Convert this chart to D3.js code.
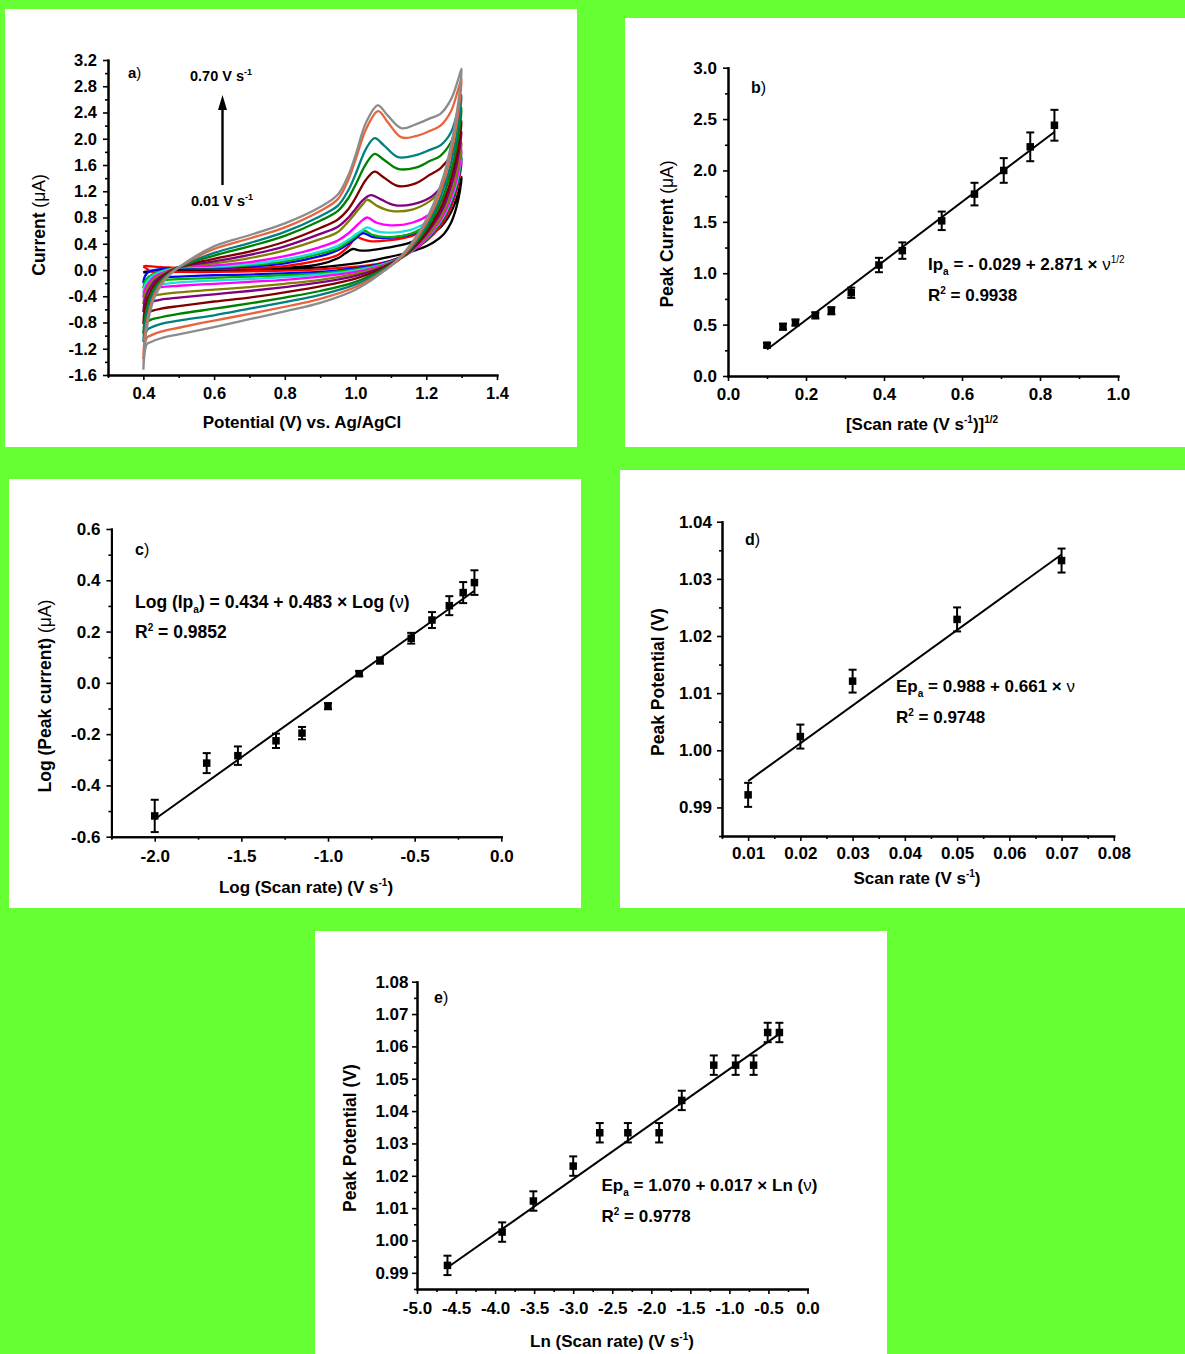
<!DOCTYPE html>
<html>
<head>
<meta charset="utf-8">
<script src="https://cdn.jsdelivr.net/npm/d3@7/dist/d3.min.js"></script>
<style>
  html, body { margin: 0; padding: 0; background: #66ff33; }
  svg { display: block; }
</style>
</head>
<body>
<svg id="fig" width="1185" height="1354"></svg>
<script>
// ------------------------------------------------------------------
// Data
// ------------------------------------------------------------------
const scanRates = [0.01, 0.02, 0.03, 0.05, 0.07, 0.10, 0.15, 0.20, 0.30, 0.40, 0.50, 0.60, 0.70];
const cvColors = ["#000000", "#ff0000", "#0000ff", "#00b000", "#22dddd", "#ff00ff", "#808000",
                  "#800080", "#800000", "#008000", "#008080", "#e8643c", "#8c8c8c"];

// Cyclic voltammograms: anodic sweep (E, i) pairs, one row per scan rate
const cvForward = [
  [[0.40,-0.04],[0.404,-0.03],[0.414,-0.02],[0.432,-0.01],[0.461,0.00],[0.50,0.01],[0.60,0.00],[0.70,0.01],[0.80,0.03],[0.90,0.09],[0.95,0.18],[0.97,0.25],[0.992,0.32],[1.01,0.30],[1.04,0.30],[1.09,0.34],[1.15,0.41],[1.20,0.52],[1.24,0.65],[1.27,0.88],[1.29,1.17],[1.30,1.42]],
  [[0.40,0.05],[0.404,0.06],[0.414,0.06],[0.432,0.05],[0.461,0.04],[0.50,0.03],[0.60,0.02],[0.70,0.03],[0.80,0.06],[0.90,0.15],[0.95,0.23],[0.98,0.36],[1.003,0.50],[1.02,0.47],[1.04,0.44],[1.09,0.45],[1.16,0.52],[1.21,0.66],[1.24,0.83],[1.27,1.10],[1.29,1.42],[1.30,1.64]],
  [[0.40,-0.20],[0.404,-0.10],[0.414,-0.03],[0.432,0.00],[0.461,0.02],[0.50,0.03],[0.60,0.03],[0.70,0.05],[0.80,0.10],[0.90,0.21],[0.95,0.30],[0.98,0.40],[1.00,0.48],[1.02,0.56],[1.05,0.50],[1.09,0.49],[1.16,0.55],[1.21,0.70],[1.24,0.87],[1.27,1.15],[1.29,1.48],[1.30,1.70]],
  [[0.40,-0.28],[0.404,-0.18],[0.414,-0.11],[0.432,-0.05],[0.461,0.00],[0.50,0.04],[0.60,0.04],[0.70,0.07],[0.80,0.13],[0.90,0.25],[0.95,0.33],[0.98,0.43],[1.00,0.51],[1.023,0.60],[1.05,0.53],[1.09,0.50],[1.16,0.56],[1.21,0.72],[1.24,0.90],[1.27,1.18],[1.29,1.50],[1.30,1.72]],
  [[0.40,-0.35],[0.404,-0.24],[0.414,-0.15],[0.432,-0.07],[0.461,-0.01],[0.50,0.04],[0.60,0.05],[0.70,0.09],[0.80,0.16],[0.90,0.28],[0.95,0.37],[0.98,0.46],[1.00,0.54],[1.02,0.61],[1.033,0.65],[1.06,0.59],[1.10,0.57],[1.16,0.62],[1.21,0.76],[1.24,0.95],[1.27,1.22],[1.29,1.55],[1.30,1.78]],
  [[0.40,-0.42],[0.404,-0.30],[0.414,-0.20],[0.432,-0.10],[0.461,-0.03],[0.50,0.04],[0.60,0.07],[0.70,0.12],[0.80,0.21],[0.90,0.35],[0.95,0.45],[0.98,0.56],[1.00,0.66],[1.02,0.76],[1.033,0.80],[1.06,0.72],[1.10,0.68],[1.16,0.72],[1.21,0.85],[1.24,1.02],[1.27,1.30],[1.29,1.60],[1.30,1.83]],
  [[0.40,-0.52],[0.404,-0.38],[0.414,-0.25],[0.432,-0.13],[0.461,-0.04],[0.50,0.04],[0.60,0.10],[0.70,0.18],[0.80,0.30],[0.90,0.47],[0.95,0.58],[0.98,0.74],[1.00,0.87],[1.02,1.00],[1.033,1.07],[1.06,0.98],[1.10,0.90],[1.16,0.92],[1.21,1.05],[1.24,1.20],[1.27,1.45],[1.29,1.75],[1.30,1.94]],
  [[0.40,-0.64],[0.404,-0.47],[0.414,-0.32],[0.432,-0.17],[0.461,-0.06],[0.50,0.04],[0.60,0.13],[0.70,0.23],[0.80,0.36],[0.90,0.55],[0.95,0.66],[0.98,0.80],[1.00,0.93],[1.02,1.06],[1.043,1.14],[1.07,1.08],[1.11,0.99],[1.16,1.00],[1.21,1.10],[1.24,1.25],[1.27,1.50],[1.29,1.85],[1.30,2.11]],
  [[0.40,-0.82],[0.404,-0.60],[0.414,-0.41],[0.432,-0.22],[0.461,-0.08],[0.50,0.04],[0.60,0.17],[0.70,0.28],[0.80,0.43],[0.90,0.64],[0.95,0.77],[0.98,0.93],[1.00,1.10],[1.03,1.38],[1.054,1.50],[1.08,1.41],[1.12,1.28],[1.17,1.32],[1.21,1.45],[1.24,1.55],[1.27,1.75],[1.29,2.05],[1.30,2.27]],
  [[0.40,-0.97],[0.404,-0.74],[0.414,-0.50],[0.432,-0.27],[0.461,-0.10],[0.50,0.04],[0.60,0.22],[0.70,0.36],[0.80,0.52],[0.90,0.75],[0.95,0.90],[0.98,1.10],[1.00,1.30],[1.03,1.62],[1.054,1.77],[1.08,1.68],[1.12,1.54],[1.17,1.56],[1.21,1.66],[1.24,1.74],[1.27,1.95],[1.29,2.25],[1.30,2.47]],
  [[0.40,-1.10],[0.404,-0.85],[0.414,-0.58],[0.432,-0.31],[0.461,-0.11],[0.50,0.04],[0.60,0.26],[0.70,0.41],[0.80,0.58],[0.90,0.82],[0.95,0.98],[0.98,1.22],[1.00,1.46],[1.03,1.85],[1.054,2.01],[1.08,1.90],[1.12,1.72],[1.17,1.75],[1.21,1.83],[1.24,1.90],[1.27,2.10],[1.29,2.45],[1.30,2.67]],
  [[0.40,-1.36],[0.404,-1.00],[0.414,-0.68],[0.432,-0.36],[0.461,-0.13],[0.50,0.04],[0.60,0.32],[0.70,0.48],[0.80,0.65],[0.90,0.90],[0.95,1.08],[0.98,1.38],[1.00,1.68],[1.03,2.15],[1.064,2.42],[1.09,2.26],[1.13,2.02],[1.17,2.04],[1.21,2.12],[1.24,2.20],[1.27,2.42],[1.29,2.75],[1.30,2.92]],
  [[0.40,-1.52],[0.404,-1.12],[0.414,-0.76],[0.432,-0.41],[0.461,-0.15],[0.50,0.04],[0.60,0.36],[0.70,0.53],[0.80,0.71],[0.90,0.96],[0.95,1.15],[0.98,1.45],[1.00,1.75],[1.03,2.25],[1.063,2.51],[1.09,2.36],[1.13,2.16],[1.17,2.22],[1.21,2.31],[1.24,2.38],[1.27,2.60],[1.29,2.90],[1.30,3.07]]
];

// Cathodic (return) sweep: shared potential grid, currents per scan rate
const cvReverseE = [1.295, 1.285, 1.27, 1.25, 1.22, 1.18, 1.13, 1.07, 1.00, 0.90, 0.80, 0.70, 0.60, 0.50, 0.45, 0.42, 0.41, 0.40];
const cvReverseI = [
  [1.20,0.95,0.72,0.55,0.42,0.32,0.24,0.17,0.10,0.04,0.01,0.00,-0.01,-0.02,-0.02,-0.02,-0.03,-0.04],
  [1.45,1.20,0.96,0.75,0.54,0.36,0.20,0.10,0.05,0.01,-0.01,-0.02,-0.03,-0.03,-0.03,-0.02,0.02,0.05],
  [1.50,1.26,1.02,0.80,0.57,0.37,0.20,0.09,0.03,-0.03,-0.05,-0.07,-0.08,-0.10,-0.11,-0.12,-0.14,-0.20],
  [1.53,1.28,1.04,0.81,0.58,0.37,0.19,0.08,0.01,-0.05,-0.08,-0.10,-0.12,-0.14,-0.16,-0.18,-0.20,-0.28],
  [1.58,1.32,1.07,0.83,0.60,0.38,0.19,0.07,-0.01,-0.07,-0.11,-0.14,-0.16,-0.19,-0.22,-0.25,-0.28,-0.35],
  [1.62,1.36,1.10,0.85,0.61,0.38,0.19,0.06,-0.03,-0.10,-0.15,-0.18,-0.21,-0.24,-0.26,-0.29,-0.32,-0.42],
  [1.72,1.45,1.17,0.90,0.64,0.40,0.19,0.05,-0.06,-0.15,-0.21,-0.26,-0.30,-0.34,-0.37,-0.40,-0.43,-0.52],
  [1.88,1.58,1.28,0.98,0.69,0.42,0.19,0.03,-0.09,-0.19,-0.26,-0.32,-0.37,-0.42,-0.45,-0.49,-0.52,-0.64],
  [2.02,1.70,1.38,1.05,0.74,0.44,0.19,0.01,-0.13,-0.25,-0.34,-0.42,-0.48,-0.55,-0.59,-0.63,-0.67,-0.82],
  [2.20,1.86,1.50,1.15,0.80,0.47,0.19,-0.01,-0.18,-0.32,-0.42,-0.51,-0.59,-0.67,-0.72,-0.76,-0.80,-0.97],
  [2.38,2.02,1.63,1.25,0.86,0.50,0.19,-0.03,-0.22,-0.38,-0.49,-0.59,-0.69,-0.77,-0.82,-0.88,-0.92,-1.10],
  [2.60,2.20,1.78,1.36,0.93,0.54,0.20,-0.05,-0.26,-0.44,-0.56,-0.67,-0.77,-0.88,-0.94,-1.00,-1.03,-1.36],
  [2.75,2.35,1.90,1.45,1.00,0.58,0.22,-0.06,-0.30,-0.50,-0.63,-0.75,-0.87,-0.98,-1.04,-1.10,-1.13,-1.52]
];

// (b) peak current vs square root of scan rate
const bX   = [0.100, 0.141, 0.173, 0.224, 0.265, 0.316, 0.387, 0.447, 0.548, 0.632, 0.707, 0.775, 0.837];
const bY   = [0.30, 0.48, 0.52, 0.59, 0.635, 0.81, 1.08, 1.22, 1.51, 1.77, 2.00, 2.23, 2.44];
const bErr = [0.02, 0.03, 0.03, 0.03, 0.035, 0.05, 0.07, 0.08, 0.09, 0.11, 0.12, 0.14, 0.15];
const bFit = [-0.029, 2.871];

// (c) log peak current vs log scan rate
const cX   = [-2.00, -1.70, -1.52, -1.30, -1.15, -1.00, -0.82, -0.70, -0.52, -0.40, -0.30, -0.22, -0.155];
const cY   = [-0.519, -0.313, -0.284, -0.226, -0.196, -0.091, 0.036, 0.087, 0.174, 0.245, 0.301, 0.352, 0.391];
const cErr = [0.063, 0.039, 0.036, 0.028, 0.024, 0.012, 0.010, 0.012, 0.021, 0.031, 0.037, 0.041, 0.048];
const cFit = [0.434, 0.483];

// (d) peak potential vs scan rate
const dX   = [0.01, 0.02, 0.03, 0.05, 0.07];
const dY   = [0.9922, 1.0024, 1.0121, 1.0229, 1.0332];
const dErr = [0.0021, 0.0021, 0.0020, 0.0021, 0.0021];
const dFit = [0.988, 0.661];

// (e) peak potential vs ln scan rate
const eX   = [-4.61, -3.91, -3.51, -3.00, -2.66, -2.30, -1.90, -1.61, -1.20, -0.92, -0.69, -0.51, -0.36];
const eY   = [0.9923, 1.0026, 1.0122, 1.0230, 1.0333, 1.0333, 1.0333, 1.0433, 1.0542, 1.0542, 1.0542, 1.0643, 1.0643];
const eErr = [0.003, 0.003, 0.003, 0.003, 0.003, 0.003, 0.003, 0.003, 0.003, 0.003, 0.003, 0.003, 0.003];
const eFit = [1.070, 0.017];

// Tick values
const aXTicks = [0.4, 0.6, 0.8, 1.0, 1.2, 1.4];
const aXMinor = [0.3, 0.5, 0.7, 0.9, 1.1, 1.3];
const aYTicks = [-1.6, -1.2, -0.8, -0.4, 0.0, 0.4, 0.8, 1.2, 1.6, 2.0, 2.4, 2.8, 3.2];
const aYMinor = [-1.4, -1.0, -0.6, -0.2, 0.2, 0.6, 1.0, 1.4, 1.8, 2.2, 2.6, 3.0];
const bXTicks = [0.0, 0.2, 0.4, 0.6, 0.8, 1.0];
const bXMinor = [0.1, 0.3, 0.5, 0.7, 0.9];
const bYTicks = [0.0, 0.5, 1.0, 1.5, 2.0, 2.5, 3.0];
const bYMinor = [0.25, 0.75, 1.25, 1.75, 2.25, 2.75];
const cXTicks = [-2.0, -1.5, -1.0, -0.5, 0.0];
const cXMinor = [-2.25, -1.75, -1.25, -0.75, -0.25];
const cYTicks = [-0.6, -0.4, -0.2, 0.0, 0.2, 0.4, 0.6];
const cYMinor = [-0.5, -0.3, -0.1, 0.1, 0.3, 0.5];
const dXTicks = [0.01, 0.02, 0.03, 0.04, 0.05, 0.06, 0.07, 0.08];
const dXMinor = [0.005, 0.015, 0.025, 0.035, 0.045, 0.055, 0.065, 0.075];
const dYTicks = [0.99, 1.00, 1.01, 1.02, 1.03, 1.04];
const dYMinor = [0.985, 0.995, 1.005, 1.015, 1.025, 1.035];
const eXTicks = [-5.0, -4.5, -4.0, -3.5, -3.0, -2.5, -2.0, -1.5, -1.0, -0.5, 0.0];
const eXMinor = [-4.75, -4.25, -3.75, -3.25, -2.75, -2.25, -1.75, -1.25, -0.75, -0.25];
const eYTicks = [0.99, 1.00, 1.01, 1.02, 1.03, 1.04, 1.05, 1.06, 1.07, 1.08];
const eYMinor = [0.985, 0.995, 1.005, 1.015, 1.025, 1.035, 1.045, 1.055, 1.065, 1.075];

// ------------------------------------------------------------------
// Drawing helpers
// ------------------------------------------------------------------
const FONT = '"Liberation Sans", Arial, Helvetica, sans-serif';
const svg = d3.select("#fig");
svg.append("rect").attr("width", 1185).attr("height", 1354).attr("fill", "#66ff33");

// text built from pieces: plain string = bold, [s,"n"] = normal,
// [s,"sup"] / [s,"sub"] = small raised / lowered, [s,"supn"] = small raised normal
function richText(parent, x, y, parts, o = {}) {
  const t = parent.append("text")
    .attr("x", x).attr("y", y)
    .attr("font-family", FONT)
    .attr("font-size", o.size || 17)
    .attr("font-weight", "bold")
    .attr("fill", "#000")
    .attr("text-anchor", o.anchor || "start");
  if (o.rotate) t.attr("transform", `rotate(-90 ${x} ${y})`);
  let shift = 0;
  parts.forEach(p => {
    const [str, kind] = typeof p === "string" ? [p, "b"] : p;
    const s = t.append("tspan").text(str);
    let target = 0;
    if (kind === "sup" || kind === "supn") {
      target = -(o.rise || 7);
      s.attr("font-size", o.small || 10);
    } else if (kind === "sub") {
      target = o.drop || 5;
      s.attr("font-size", o.small || 10);
    }
    if (kind === "n" || kind === "supn") s.attr("font-weight", "normal");
    if (target !== shift) s.attr("dy", target - shift);
    shift = target;
  });
  return t;
}

function panel(p) {
  const g = svg.append("g");
  g.append("rect")
    .attr("x", p.box[0]).attr("y", p.box[1])
    .attr("width", p.box[2] - p.box[0]).attr("height", p.box[3] - p.box[1])
    .attr("fill", "#ffffff");

  const x = d3.scaleLinear().domain(p.xd).range(p.xr);
  const y = d3.scaleLinear().domain(p.yd).range(p.yr);
  const fx = d => d.toFixed(p.xDec);
  const fy = d => d.toFixed(p.yDec);

  const styleAxis = sel => {
    sel.select(".domain").attr("stroke", "#000").attr("stroke-width", 2).attr("stroke-linecap", "square");
    sel.selectAll(".tick line").attr("stroke", "#000").attr("stroke-width", 1.6);
    sel.selectAll(".tick text")
      .attr("fill", "#000")
      .style("font-family", FONT)
      .style("font-size", (p.tickSize || 17) + "px")
      .style("font-weight", "bold");
  };

  const xg = g.append("g").attr("transform", `translate(0,${p.yr[0]})`);
  xg.append("g").call(d3.axisBottom(x).tickValues(p.xMinor).tickSize(3).tickFormat("").tickSizeOuter(0)).call(styleAxis);
  xg.append("g").call(d3.axisBottom(x).tickValues(p.xTicks).tickSize(5).tickPadding(p.xPad).tickFormat(fx).tickSizeOuter(0)).call(styleAxis);

  const yg = g.append("g").attr("transform", `translate(${p.xr[0]},0)`);
  yg.append("g").call(d3.axisLeft(y).tickValues(p.yMinor).tickSize(3).tickFormat("").tickSizeOuter(0)).call(styleAxis);
  yg.append("g").call(d3.axisLeft(y).tickValues(p.yTicks).tickSize(5).tickPadding(p.yPad).tickFormat(fy).tickSizeOuter(0)).call(styleAxis);

  return { g, x, y };
}

function scatterWithFit(P, xs, ys, errs, fit) {
  const { g, x, y } = P;
  const x0 = xs[0], x1 = xs[xs.length - 1];
  g.append("line")
    .attr("x1", x(x0)).attr("y1", y(fit[0] + fit[1] * x0))
    .attr("x2", x(x1)).attr("y2", y(fit[0] + fit[1] * x1))
    .attr("stroke", "#000").attr("stroke-width", 2);
  const pts = g.append("g");
  xs.forEach((xv, i) => {
    const cx = x(xv), top = y(ys[i] + errs[i]), bot = y(ys[i] - errs[i]);
    pts.append("line").attr("x1", cx).attr("x2", cx).attr("y1", top).attr("y2", bot)
      .attr("stroke", "#000").attr("stroke-width", 2);
    [top, bot].forEach(yy => pts.append("line")
      .attr("x1", cx - 4).attr("x2", cx + 4).attr("y1", yy).attr("y2", yy)
      .attr("stroke", "#000").attr("stroke-width", 2));
    pts.append("rect").attr("x", cx - 3.75).attr("y", y(ys[i]) - 3.75)
      .attr("width", 7.5).attr("height", 7.5).attr("fill", "#000");
  });
}

// ------------------------------------------------------------------
// (a) cyclic voltammograms
// ------------------------------------------------------------------
const A = panel({
  box: [5, 9, 577, 447],
  xr: [108, 497], yr: [375, 60], xd: [0.3, 1.4], yd: [-1.6, 3.2],
  xTicks: aXTicks, xMinor: aXMinor, yTicks: aYTicks, yMinor: aYMinor,
  xDec: 1, yDec: 1, xPad: 7, yPad: 6, tickSize: 16.5
});
{
  const line = d3.line().x(d => A.x(d[0])).y(d => A.y(d[1])).curve(d3.curveCatmullRom.alpha(0.5));
  const curves = A.g.append("g").attr("fill", "none").attr("stroke-width", 2.3).attr("stroke-linejoin", "round");
  scanRates.forEach((v, k) => {
    const loop = cvForward[k].concat(cvReverseE.map((e, j) => [e, cvReverseI[k][j]]));
    curves.append("path").attr("d", line(loop)).attr("stroke", cvColors[k]);
  });
  richText(A.g, 128, 78, ["a", [")", "n"]], { size: 15 });
  richText(A.g, 190, 81, ["0.70 V s", ["-1", "sup"]], { size: 14.5, small: 9, rise: 6 });
  richText(A.g, 191, 206, ["0.01 V s", ["-1", "sup"]], { size: 14.5, small: 9, rise: 6 });
  A.g.append("line").attr("x1", 222.5).attr("x2", 222.5).attr("y1", 185).attr("y2", 106)
    .attr("stroke", "#000").attr("stroke-width", 2.4);
  A.g.append("path").attr("d", "M222.5,95 L227,110 L218,110 Z").attr("fill", "#000");
  richText(A.g, 302, 428, ["Potential (V) vs. Ag/AgCl"], { anchor: "middle", size: 17 });
  richText(A.g, 45, 225, ["Current ", ["(\u03bcA)", "n"]], { anchor: "middle", size: 17.5, rotate: true });
}

// ------------------------------------------------------------------
// (b) peak current vs v^1/2
// ------------------------------------------------------------------
const B = panel({
  box: [625, 18, 1185, 447],
  xr: [728, 1118], yr: [376, 67.7], xd: [0, 1], yd: [0, 3],
  xTicks: bXTicks, xMinor: bXMinor, yTicks: bYTicks, yMinor: bYMinor,
  xDec: 1, yDec: 1, xPad: 7, yPad: 6
});
scatterWithFit(B, bX, bY, bErr, bFit);
richText(B.g, 751, 93, ["b", [")", "n"]], { size: 16 });
richText(B.g, 928, 270, ["Ip", ["a", "sub"], " = - 0.029 + 2.871 \u00d7 ", ["\u03bd", "n"], ["1/2", "supn"]], { size: 17 });
richText(B.g, 928, 301, ["R", ["2", "sup"], " = 0.9938"], { size: 17 });
richText(B.g, 922, 430, ["[Scan rate (V s", ["-1", "sup"], ")]", ["1/2", "sup"]], { anchor: "middle", size: 17 });
richText(B.g, 673, 234, ["Peak Current ", ["(\u03bcA)", "n"]], { anchor: "middle", size: 17.5, rotate: true });

// ------------------------------------------------------------------
// (c) log-log plot
// ------------------------------------------------------------------
const C = panel({
  box: [9, 479, 581, 908],
  xr: [111.4, 501.3], yr: [836.7, 529], xd: [-2.25, 0], yd: [-0.6, 0.6],
  xTicks: cXTicks, xMinor: cXMinor, yTicks: cYTicks, yMinor: cYMinor,
  xDec: 1, yDec: 1, xPad: 8, yPad: 6
});
scatterWithFit(C, cX, cY, cErr, cFit);
richText(C.g, 135, 555, ["c", [")", "n"]], { size: 16 });
richText(C.g, 135, 607.5, ["Log (Ip", ["a", "sub"], ") = 0.434 + 0.483 \u00d7 Log (", ["\u03bd", "n"], ")"], { size: 17.5 });
richText(C.g, 135, 638, ["R", ["2", "sup"], " = 0.9852"], { size: 17.5 });
richText(C.g, 306, 893, ["Log (Scan rate) (V s", ["-1", "sup"], ")"], { anchor: "middle", size: 17 });
richText(C.g, 51, 696, ["Log (Peak current) ", ["(\u03bcA)", "n"]], { anchor: "middle", size: 17.5, rotate: true });

// ------------------------------------------------------------------
// (d) peak potential vs scan rate
// ------------------------------------------------------------------
const D = panel({
  box: [620, 470, 1185, 908],
  xr: [722, 1113.8], yr: [836, 521.7], xd: [0.005, 0.08], yd: [0.985, 1.04],
  xTicks: dXTicks, xMinor: dXMinor, yTicks: dYTicks, yMinor: dYMinor,
  xDec: 2, yDec: 2, xPad: 6, yPad: 5
});
scatterWithFit(D, dX, dY, dErr, dFit);
richText(D.g, 745, 545, ["d", [")", "n"]], { size: 16 });
richText(D.g, 896, 692, ["Ep", ["a", "sub"], " = 0.988 + 0.661 \u00d7 ", ["\u03bd", "n"]], { size: 17 });
richText(D.g, 896, 722.5, ["R", ["2", "sup"], " = 0.9748"], { size: 17 });
richText(D.g, 917, 884, ["Scan rate (V s", ["-1", "sup"], ")"], { anchor: "middle", size: 17 });
richText(D.g, 664, 682, ["Peak Potential (V)"], { anchor: "middle", size: 17.5, rotate: true });

// ------------------------------------------------------------------
// (e) peak potential vs ln scan rate
// ------------------------------------------------------------------
const E = panel({
  box: [315, 931, 887, 1354],
  xr: [417, 807.5], yr: [1289, 981.7], xd: [-5, 0], yd: [0.985, 1.08],
  xTicks: eXTicks, xMinor: eXMinor, yTicks: eYTicks, yMinor: eYMinor,
  xDec: 1, yDec: 2, xPad: 8, yPad: 3.5
});
scatterWithFit(E, eX, eY, eErr, eFit);
richText(E.g, 434, 1003, ["e", [")", "n"]], { size: 16 });
richText(E.g, 601.5, 1190.5, ["Ep", ["a", "sub"], " = 1.070 + 0.017 \u00d7 Ln (", ["\u03bd", "n"], ")"], { size: 17 });
richText(E.g, 601.5, 1221.5, ["R", ["2", "sup"], " = 0.9778"], { size: 17 });
richText(E.g, 612, 1346.5, ["Ln (Scan rate) (V s", ["-1", "sup"], ")"], { anchor: "middle", size: 17 });
richText(E.g, 356, 1138, ["Peak Potential (V)"], { anchor: "middle", size: 17.5, rotate: true });
</script>
</body>
</html>
